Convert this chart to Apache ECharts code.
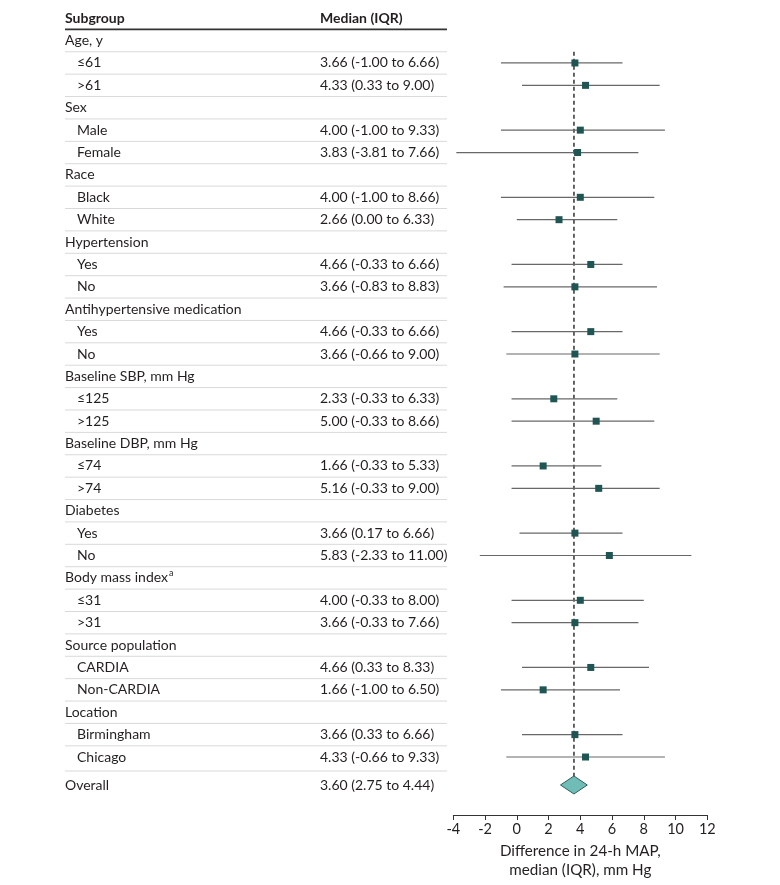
<!DOCTYPE html>
<html><head><meta charset="utf-8">
<script src="https://cdn.jsdelivr.net/npm/echarts@6/dist/echarts.min.js"></script>
<style>html,body{margin:0;padding:0;background:#fff}#c{width:780px;height:885px}</style>
</head><body><div id="c"></div>
<script>
const columnHeaders = ['Subgroup', 'Median (IQR)'];
const subgroups = ['Age, y', '≤61', '>61', 'Sex', 'Male', 'Female', 'Race', 'Black', 'White',
  'Hypertension', 'Yes', 'No', 'Antihypertensive medication', 'Yes', 'No',
  'Baseline SBP, mm Hg', '≤125', '>125', 'Baseline DBP, mm Hg', '≤74', '>74',
  'Diabetes', 'Yes', 'No', 'Body mass index', '≤31', '>31',
  'Source population', 'CARDIA', 'Non-CARDIA', 'Location', 'Birmingham', 'Chicago', 'Overall'];
// 0 = group heading, 1 = subgroup, 2 = overall
const levels = [0,1,1, 0,1,1, 0,1,1, 0,1,1, 0,1,1, 0,1,1, 0,1,1, 0,1,1, 0,1,1, 0,1,1, 0,1,1, 2];
const footnoteRows = ['Body mass index'];
const medians = [null, 3.66, 4.33, null, 4.00, 3.83, null, 4.00, 2.66, null, 4.66, 3.66, null, 4.66, 3.66,
  null, 2.33, 5.00, null, 1.66, 5.16, null, 3.66, 5.83, null, 4.00, 3.66, null, 4.66, 1.66, null, 3.66, 4.33, 3.60];
const lows = [null, -1.00, 0.33, null, -1.00, -3.81, null, -1.00, 0.00, null, -0.33, -0.83, null, -0.33, -0.66,
  null, -0.33, -0.33, null, -0.33, -0.33, null, 0.17, -2.33, null, -0.33, -0.33, null, 0.33, -1.00, null, 0.33, -0.66, 2.75];
const highs = [null, 6.66, 9.00, null, 9.33, 7.66, null, 8.66, 6.33, null, 6.66, 8.83, null, 6.66, 9.00,
  null, 6.33, 8.66, null, 5.33, 9.00, null, 6.66, 11.00, null, 8.00, 7.66, null, 8.33, 6.50, null, 6.66, 9.33, 4.44];
const xMin = -4, xMax = 12, xStep = 2;
const xTitle = 'Difference in 24-h MAP,\nmedian (IQR), mm Hg';

const FONT = 'Lato, "Noto Sans", sans-serif';
const TXT = '#231f20';
const pos = subgroups.map((s, i) => i + (levels[i] === 2 ? 0.25 : 0));
const fmt = v => v.toFixed(2);
const overallIdx = levels.indexOf(2);

const yMin = -1.5, yMax = 34.59;
const chart = echarts.init(document.getElementById('c'), null, {renderer: 'canvas'});

const rowData = subgroups.map((s, i) => [0, pos[i], i]);
const plotData = [];
subgroups.forEach((s, i) => { if (medians[i] != null) plotData.push([medians[i], lows[i], highs[i], pos[i], i]); });

function renderTableRow(params, api) {
  const i = api.value(2);
  const cs = params.coordSys;
  const y = api.coord([0, api.value(1)])[1];
  const x0 = cs.x;
  const children = [];
  const lvl = levels[i];
  const name = subgroups[i];
  const textStyle = {
    x: x0 + (lvl === 1 ? 12 : 0), y: y, fill: TXT,
    font: '14px ' + FONT, textAlign: 'left', textVerticalAlign: 'middle', align: 'left', verticalAlign: 'middle'
  };
  if (footnoteRows.indexOf(name) >= 0) {
    textStyle.text = '{n|' + name + '}{s|a}';
    textStyle.rich = {
      n: {fontSize: 14, fontFamily: FONT, color: TXT, lineHeight: 18, verticalAlign: 'middle'},
      s: {fontSize: 9, fontFamily: FONT, color: TXT, lineHeight: 18, verticalAlign: 'top', padding: [0, 0, 0, 1]}
    };
  } else {
    textStyle.text = name;
  }
  children.push({type: 'text', style: textStyle});
  if (medians[i] != null) {
    children.push({type: 'text', style: {
      x: x0 + 255, y: y, fill: TXT, text: fmt(medians[i]) + ' (' + fmt(lows[i]) + ' to ' + fmt(highs[i]) + ')',
      font: '14px ' + FONT, textAlign: 'left', textVerticalAlign: 'middle', align: 'left', verticalAlign: 'middle'
    }});
  }
  if (i < subgroups.length - 1) {
    const yb = api.coord([0, (pos[i] + pos[i + 1]) / 2])[1];
    children.push({type: 'line', shape: {x1: x0, y1: yb, x2: x0 + cs.width, y2: yb},
      style: {stroke: '#d9d9d9', lineWidth: 1}});
  }
  return {type: 'group', children: children};
}

function renderHeader(params, api) {
  const cs = params.coordSys;
  const y = api.coord([0, -1])[1];
  const yl = api.coord([0, -0.5])[1];
  const x0 = cs.x;
  const st = (x, t) => ({type: 'text', style: {x: x, y: y, text: t, fill: TXT, font: 'bold 14px ' + FONT,
    textAlign: 'left', textVerticalAlign: 'middle', align: 'left', verticalAlign: 'middle'}});
  return {type: 'group', children: [
    st(x0, columnHeaders[0]), st(x0 + 255, columnHeaders[1]),
    {type: 'line', shape: {x1: x0, y1: yl, x2: x0 + cs.width, y2: yl}, style: {stroke: '#333', lineWidth: 1.6}}
  ]};
}

function renderRef(params, api) {
  const a = api.coord([api.value(0), api.value(1)]);
  const b = api.coord([api.value(0), api.value(2)]);
  return {type: 'line', shape: {x1: a[0], y1: a[1], x2: b[0], y2: b[1]},
    style: {stroke: '#4a4a4a', lineWidth: 1.7, lineDash: [4, 3]}};
}

function renderEst(params, api) {
  const i = api.value(4);
  const yv = api.value(3);
  const m = api.coord([api.value(0), yv]);
  const lo = api.coord([api.value(1), yv]);
  const hi = api.coord([api.value(2), yv]);
  if (levels[i] === 2) {
    const h = 9;
    return {type: 'polygon', shape: {points: [[lo[0], m[1]], [m[0], m[1] - h], [hi[0], m[1]], [m[0], m[1] + h]]},
      style: {fill: '#6fbdb6', stroke: '#2d5e5b', lineWidth: 1}, z2: 10};
  }
  const s = 7;
  return {type: 'group', children: [
    {type: 'line', shape: {x1: lo[0], y1: lo[1], x2: hi[0], y2: hi[1]}, style: {stroke: '#686868', lineWidth: 1.2}},
    {type: 'rect', shape: {x: m[0] - s / 2, y: m[1] - s / 2, width: s, height: s}, style: {fill: '#1f5553'}}
  ]};
}

const yAxisBase = {type: 'value', inverse: true, min: yMin, max: yMax, show: false};
chart.setOption({
  animation: false,
  textStyle: {fontFamily: FONT},
  grid: [
    {left: 453.3, right: 72.7, top: 7, bottom: 70},
    {left: 65, right: 333, top: 7, bottom: 70}
  ],
  xAxis: [
    {type: 'value', gridIndex: 0, min: xMin, max: xMax, interval: xStep, position: 'bottom',
      splitLine: {show: false},
      axisLine: {show: true, onZero: false, lineStyle: {color: '#333', width: 1}},
      axisTick: {show: true, length: 5, lineStyle: {color: '#333'}},
      axisLabel: {color: TXT, fontSize: 14.5, fontFamily: FONT, margin: 7},
      name: xTitle, nameLocation: 'middle', nameGap: 23,
      nameTextStyle: {color: TXT, fontSize: 15.2, fontFamily: FONT, lineHeight: 18.5, verticalAlign: 'top'}},
    {type: 'value', gridIndex: 1, min: 0, max: 1, show: false}
  ],
  yAxis: [Object.assign({gridIndex: 0}, yAxisBase), Object.assign({gridIndex: 1}, yAxisBase)],
  series: [
    {type: 'custom', xAxisIndex: 1, yAxisIndex: 1, renderItem: renderHeader, data: [[0, -1]], encode: {x: 0, y: 1}, silent: true},
    {type: 'custom', xAxisIndex: 1, yAxisIndex: 1, renderItem: renderTableRow, data: rowData, encode: {x: 0, y: 1}, silent: true},
    {type: 'custom', xAxisIndex: 0, yAxisIndex: 0, renderItem: renderRef,
      data: [[medians[overallIdx], 0.5, pos[overallIdx]]], encode: {x: 0, y: [1, 2]}, silent: true},
    {type: 'custom', xAxisIndex: 0, yAxisIndex: 0, renderItem: renderEst, data: plotData,
      encode: {x: [0, 1, 2], y: 3}, silent: true, z: 3}
  ]
});
</script></body></html>
